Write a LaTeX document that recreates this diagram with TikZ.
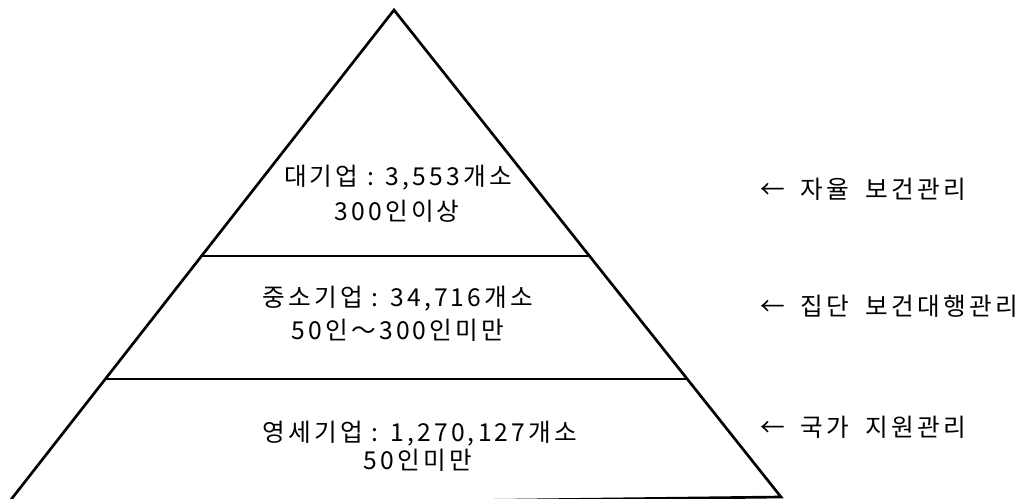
\documentclass[tikz,border=0pt]{standalone}
\usepackage{fontspec}
\setmainfont{Noto Sans CJK KR}
\newcommand{\gapsp}{\hspace{0.65em}}
\begin{document}
\begin{tikzpicture}[x=0.75pt,y=-0.75pt,
  edge/.style={line width=2pt, line join=miter},
  lbl/.style={inner sep=0pt, font=\fontsize{18.5}{22}\selectfont\addfontfeature{LetterSpace=13}},
  side/.style={inner sep=0pt, anchor=west, font=\fontsize{18.5}{22}\selectfont\addfontfeature{LetterSpace=13}}]
\useasboundingbox (0,0) rectangle (1025,499);
\coordinate (apex) at (394,10);
\coordinate (br) at (781,497);
\coordinate (bl) at (6,506);
\coordinate (l1) at (200,256);
\coordinate (r1) at (588,256);
\coordinate (l2) at (106,379);
\coordinate (r2) at (686,379);
\draw[edge] (apex) -- (br) -- (bl) -- cycle;
\draw[edge] (l1) -- (r1);
\draw[edge] (l2) -- (r2);
\node[lbl] (t1) at (398,178) {대기업 : 3,553개소};
\node[lbl] (t2) at (397,211) {300인이상};
\node[lbl] (m1) at (398,299) {중소기업 : 34,716개소};
\node[lbl] (m2) at (398,330) {50인～300인미만};
\node[lbl] (b1) at (420,434) {영세기업 : 1,270,127개소};
\node[lbl] (b2) at (418,460) {50인미만};
\node[side] (s1) at (760,189) {←\gapsp 자율\gapsp 보건관리};
\node[side] (s2) at (760,306) {←\gapsp 집단\gapsp 보건대행관리};
\node[side] (s3) at (760,427) {←\gapsp 국가\gapsp 지원관리};
\end{tikzpicture}
\end{document}
